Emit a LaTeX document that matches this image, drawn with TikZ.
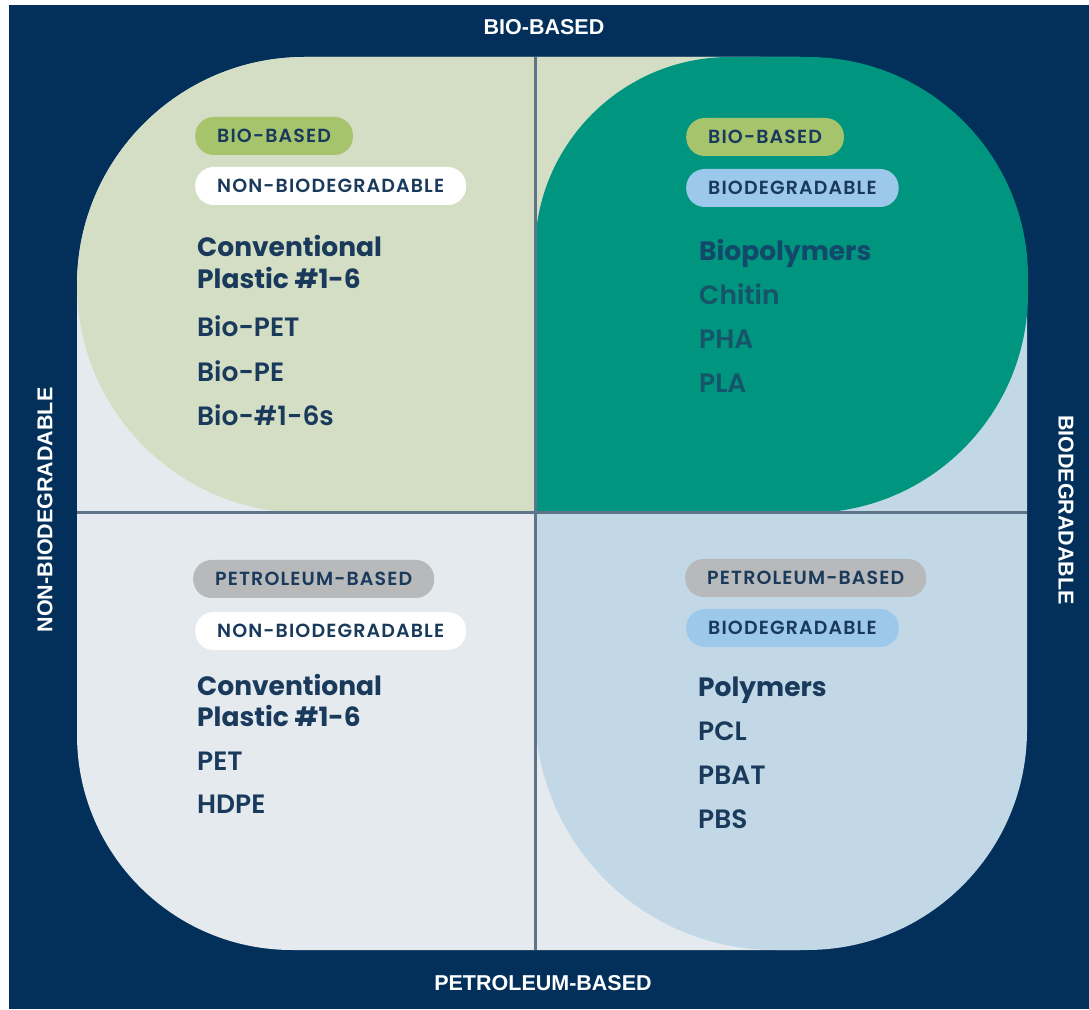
\documentclass[tikz,border=0pt]{standalone}
\usepackage{fontspec}
\setmainfont{Poppins}
\newfontfamily\popsemi{Poppins SemiBold}
\newfontfamily\popbold{Poppins Bold}
\newfontfamily\pilltext{Poppins SemiBold}[LetterSpace=6]
\newfontfamily\axisfont{Liberation Sans}

\definecolor{navy}{HTML}{02305A}
\definecolor{panelgray}{HTML}{E4EAEE}
\definecolor{panelgreen}{HTML}{D3DEC4}
\definecolor{qteal}{HTML}{00957F}
\definecolor{panelblue}{HTML}{C2D8E6}
\definecolor{divider}{HTML}{5E7489}
\definecolor{pillgreen}{HTML}{A6C46C}
\definecolor{pillblue}{HTML}{9CC8EC}
\definecolor{pillgray}{HTML}{B8B9BA}
\definecolor{ink}{HTML}{1A3A5C}
\definecolor{inkteal}{HTML}{12486A}
\definecolor{inkteallight}{HTML}{165569}

\tikzset{
  axislabel/.style={text=white, font=\axisfont\bfseries\fontsize{21.5}{26}\selectfont, inner sep=0pt},
  pill/.style={anchor=west, rounded corners=18.5pt, minimum height=38pt, inner xsep=22pt, inner ysep=0pt,
    text height=13.3pt, text depth=0pt, text=ink, font=\pilltext\fontsize{19}{22}\selectfont},
  heading/.style={anchor=base west, inner sep=0pt, text=ink,
    font=\popbold\fontsize{26.5}{32}\selectfont},
  item/.style={anchor=base west, inner sep=0pt, text=ink,
    font=\popsemi\fontsize{26.5}{32}\selectfont},
}

\begin{document}
\begin{tikzpicture}[x=1pt, y=1pt]
  \useasboundingbox (0,0) rectangle (1089,1009);
  \fill[white] (0,0) rectangle (1089,1009);
  % dark frame
  \fill[navy] (9,0) rectangle (1089,1004);

  % light gray base: petroleum-based, non-biodegradable side
  \fill[panelgray] (77,496) -- (77,724) arc[start angle=180, end angle=90, radius=228]
    -- (800,952) -- (800,59) -- (292,59) arc[start angle=270, end angle=180, radius=215] -- cycle;
  % light green band: bio-based
  \fill[panelgreen] (760,952) -- (305,952) arc[start angle=90, end angle=180, radius=228]
    arc[start angle=180, end angle=270, radius=228] -- (760,496) -- cycle;
  % light blue band: biodegradable
  \fill[panelblue] (535,709) -- (1027,709) -- (1027,279) arc[start angle=0, end angle=-90, radius=220]
    -- (775,59) arc[start angle=270, end angle=180, radius=240] -- cycle;
  % teal: bio-based and biodegradable
  \fill[qteal] (535,496) -- (535,757) arc[start angle=180, end angle=90, radius=195]
    -- (808,952) arc[start angle=90, end angle=0, radius=220]
    -- (1028,716) arc[start angle=0, end angle=-90, radius=220] -- cycle;

  % axes
  \coordinate (vtop) at (535,952);
  \coordinate (vbot) at (535,59);
  \coordinate (hleft) at (77,496);
  \coordinate (hright) at (1027,496);
  \draw[divider, line width=3pt] (vtop) -- (vbot);
  \draw[divider, line width=3pt] (hleft) -- (hright);

  % axis labels
  \node[axislabel] (axtop) at (544,982) {BIO-BASED};
  \node[axislabel] (axbot) at (543,26) {PETROLEUM-BASED};
  \node[axislabel, rotate=90] (axleft) at (45,499) {NON-BIODEGRADABLE};
  \node[axislabel, rotate=-90] (axright) at (1066,499) {BIODEGRADABLE};

  % top left: bio-based, non-biodegradable
  \node[pill, fill=pillgreen] (tlA) at (195,873) {BIO-BASED};
  \node[pill, fill=white] (tlB) at (195,823) {NON-BIODEGRADABLE};
  \node[heading] (tlH1) at (197,752) {Conventional};
  \node[heading] (tlH2) at (197,720) {Plastic \#1-6};
  \node[item] (tl1) at (197,672) {Bio-PET};
  \node[item] (tl2) at (197,627) {Bio-PE};
  \node[item] (tl3) at (197,583) {Bio-\#1-6s};

  % top right: bio-based, biodegradable
  \node[pill, fill=pillgreen] (trA) at (686,872) {BIO-BASED};
  \node[pill, fill=pillblue] (trB) at (686,821) {BIODEGRADABLE};
  \node[heading, text=inkteal] (trH) at (699,748) {Biopolymers};
  \node[item, text=inkteallight] (tr1) at (699,704) {Chitin};
  \node[item, text=inkteallight] (tr2) at (699,660) {PHA};
  \node[item, text=inkteallight] (tr3) at (699,616) {PLA};

  % bottom left: petroleum-based, non-biodegradable
  \node[pill, fill=pillgray] (blA) at (193,430) {PETROLEUM-BASED};
  \node[pill, fill=white] (blB) at (195,378) {NON-BIODEGRADABLE};
  \node[heading] (blH1) at (197,313) {Conventional};
  \node[heading] (blH2) at (197,282) {Plastic \#1-6};
  \node[item] (bl1) at (197,238) {PET};
  \node[item] (bl2) at (197,195) {HDPE};

  % bottom right: petroleum-based, biodegradable
  \node[pill, fill=pillgray] (brA) at (685,431) {PETROLEUM-BASED};
  \node[pill, fill=pillblue] (brB) at (686,381) {BIODEGRADABLE};
  \node[heading] (brH) at (698,312) {Polymers};
  \node[item] (br1) at (698,268) {PCL};
  \node[item] (br2) at (698,224) {PBAT};
  \node[item] (br3) at (698,180) {PBS};
\end{tikzpicture}
\end{document}
